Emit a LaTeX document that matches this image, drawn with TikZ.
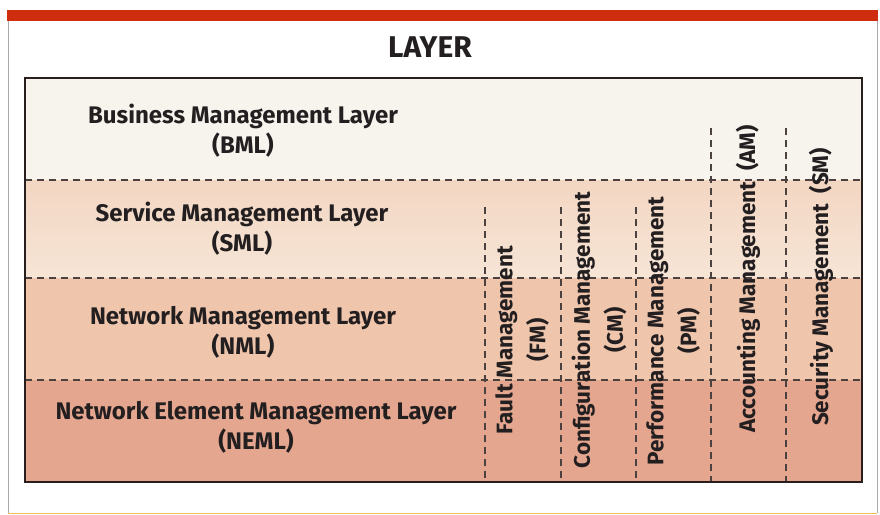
\documentclass[tikz,border=0pt]{standalone}
\usepackage{fontspec}
\setmainfont{Fira Sans}
\definecolor{redbar}{RGB}{206,46,14}
\definecolor{framegray}{RGB}{170,170,170}
\definecolor{boxline}{RGB}{40,30,30}
\definecolor{dashcol}{RGB}{75,65,62}
\definecolor{textdark}{RGB}{35,31,32}
\definecolor{rowA}{RGB}{247,243,237}
\definecolor{rowBtop}{RGB}{243,214,194}
\definecolor{rowBbot}{RGB}{246,229,214}
\definecolor{rowC}{RGB}{239,197,172}
\definecolor{rowD}{RGB}{228,166,142}
\definecolor{bottomline}{RGB}{238,190,90}
\begin{document}
\begin{tikzpicture}[x=1pt,y=-1pt,
  lbl/.style={font=\bfseries\fontsize{24}{30}\selectfont, align=center, text=textdark, inner sep=0pt},
  vlbl/.style={lbl, font=\bfseries\fontsize{22.5}{33}\selectfont, rotate=90},
  sepline/.style={draw=dashcol, line width=1.1pt, dash pattern=on 7pt off 5pt},
  rowfill/.style={fill=#1, draw=none}]
\useasboundingbox (0,0) rectangle (880,514);
\fill[white] (0,0) rectangle (880,514);
% outer frame
\draw[framegray, line width=0.8pt] (8,21) -- (8,513);
\draw[framegray, line width=0.8pt] (877,21) -- (877,513);
\draw[bottomline, line width=1pt] (8,513) -- (877,513);
\fill[redbar] (7,10) rectangle (878,21);
% title
\node[lbl, font=\bfseries\fontsize{30}{30}\selectfont] (title) at (430,47) {LAYER};
% rows
\fill[rowfill=rowA] (25,78) rectangle (862,180);
\shade[top color=rowBtop, bottom color=rowBbot] (25,180) rectangle (862,278);
\fill[rowfill=rowC] (25,278) rectangle (862,380);
\fill[rowfill=rowD] (25,380) rectangle (862,482);
% horizontal separators
\draw[sepline] (25,180) -- (862,180);
\draw[sepline] (25,278) -- (862,278);
\draw[sepline] (25,380) -- (862,380);
% vertical separators
\draw[sepline] (485,207) -- (485,482);
\draw[sepline] (561,207) -- (561,482);
\draw[sepline] (636,207) -- (636,482);
\draw[sepline] (711,128) -- (711,482);
\draw[sepline] (786,128) -- (786,482);
% box border
\draw[boxline, line width=2pt] (25,78) rectangle (862,482);
% row labels
\node[lbl] (bml) at (243,131) {Business Management Layer\\(BML)};
\node[lbl] (sml) at (242,229) {Service Management Layer\\(SML)};
\node[lbl] (nml) at (243,332) {Network Management Layer\\(NML)};
\node[lbl] (neml) at (256,427) {Network Element Management Layer\\(NEML)};
% column labels
\node[vlbl] (fm) at (522,340) {Fault Management\\(FM)};
\node[vlbl] (cm) at (599,330) {Configuration Management\\(CM)};
\node[vlbl] (pm) at (673,331) {Performance Management\\(PM)};
\node[vlbl] (am) at (748,279) {Accounting Management\ \ (AM)};
\node[vlbl] (sm) at (821,287) {Security Management\ \ (SM)};
\end{tikzpicture}
\end{document}
